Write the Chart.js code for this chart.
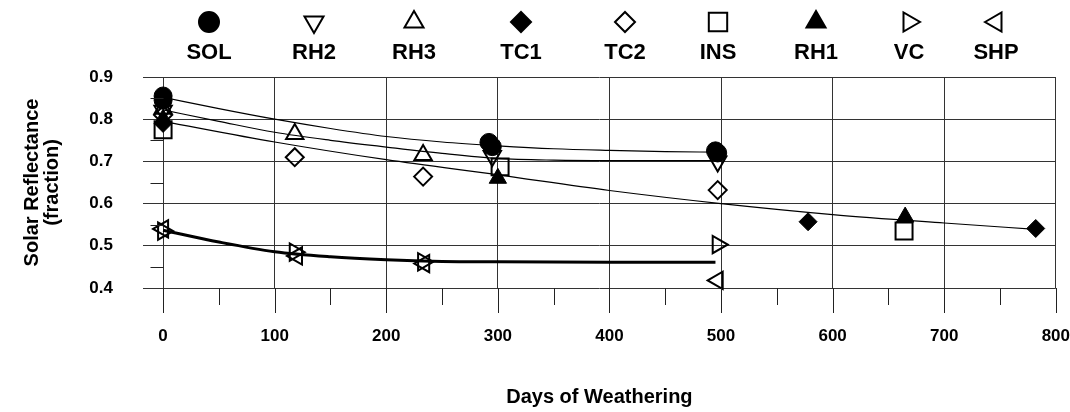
<!DOCTYPE html>
<html>
<head>
<meta charset="utf-8">
<script src="https://cdn.jsdelivr.net/npm/chart.js@4/dist/chart.umd.min.js"></script>
<style>
  html, body { margin: 0; padding: 0; background: #fff; }
</style>
</head>
<body>
<canvas id="myChart" width="1070" height="412"></canvas>
<script>
// Measured points (days, reflectance) for each sample
const seriesNames = ['SOL', 'RH2', 'RH3', 'TC1', 'TC2', 'INS', 'RH1', 'VC', 'SHP'];

const solDays = [0, 0, 292, 295, 495, 497];
const solRefl = [0.855, 0.845, 0.745, 0.735, 0.725, 0.72];
const rh2Days = [0, 295, 497];
const rh2Refl = [0.82, 0.713, 0.70];
const rh3Days = [0, 118, 233];
const rh3Refl = [0.825, 0.765, 0.715];
const tc1Days = [0, 578, 782];
const tc1Refl = [0.79, 0.557, 0.541];
const tc2Days = [0, 118, 233, 497];
const tc2Refl = [0.81, 0.71, 0.664, 0.632];
const insDays = [0, 302, 664];
const insRefl = [0.775, 0.687, 0.535];
const rh1Days = [0, 300, 665];
const rh1Refl = [0.80, 0.66, 0.568];
const vcDays = [0, 118, 233, 497];
const vcRefl = [0.535, 0.485, 0.462, 0.503];
const shpDays = [0, 120, 234, 497];
const shpRefl = [0.54, 0.476, 0.458, 0.418];

// Trend curves
const trendADays = [0, 50, 100, 150, 200, 250, 300, 350, 400, 450, 497];
const trendA = [0.852, 0.825, 0.80, 0.778, 0.759, 0.746, 0.737, 0.730, 0.726, 0.723, 0.722];
const trendBDays = [0, 50, 100, 150, 200, 250, 300, 350, 400, 450, 497];
const trendB = [0.822, 0.795, 0.769, 0.75, 0.734, 0.719, 0.707, 0.703, 0.702, 0.702, 0.702];
const trendCDays = [0, 100, 200, 300, 400, 500, 600, 700, 782];
const trendC = [0.795, 0.746, 0.704, 0.668, 0.631, 0.60, 0.574, 0.554, 0.539];
const trendDDays = [0, 50, 100, 150, 200, 250, 300, 400, 495];
const trendD = [0.537, 0.509, 0.486, 0.474, 0.467, 0.463, 0.462, 0.461, 0.461];

const xTicks = [0, 100, 200, 300, 400, 500, 600, 700, 800];
const yTicks = ['0.4', '0.5', '0.6', '0.7', '0.8', '0.9'];

const seriesDays = [solDays, rh2Days, rh3Days, tc1Days, tc2Days, insDays, rh1Days, vcDays, shpDays];
const seriesRefl = [solRefl, rh2Refl, rh3Refl, tc1Refl, tc2Refl, insRefl, rh1Refl, vcRefl, shpRefl];

// marker look for each series
const markerStyles = [
  { pointStyle: 'circle',   rotation: 0,   filled: true,  radius: 9 },
  { pointStyle: 'triangle', rotation: 180, filled: false, radius: 10 },
  { pointStyle: 'triangle', rotation: 0,   filled: false, radius: 10 },
  { pointStyle: 'rectRot',  rotation: 0,   filled: true,  radius: 9 },
  { pointStyle: 'rectRot',  rotation: 0,   filled: false, radius: 9 },
  { pointStyle: 'rect',     rotation: 0,   filled: false, radius: 12 },
  { pointStyle: 'triangle', rotation: 0,   filled: true,  radius: 10 },
  { pointStyle: 'triangle', rotation: 90,  filled: false, radius: 10 },
  { pointStyle: 'triangle', rotation: 270, filled: false, radius: 10 }
];
const legendX = [209, 314, 414, 521, 625, 718, 816, 909, 996];

const toPoints = (xs, ys) => xs.map((d, i) => ({ x: d, y: ys[i] }));

const datasets = seriesNames.map((name, i) => {
  const st = markerStyles[i];
  return {
    label: name,
    data: toPoints(seriesDays[i], seriesRefl[i]),
    showLine: false,
    pointStyle: st.pointStyle,
    rotation: st.rotation,
    pointRadius: st.radius,
    pointHoverRadius: st.radius,
    backgroundColor: st.filled ? '#000' : 'rgba(0,0,0,0)',
    borderColor: '#000',
    pointBorderWidth: st.filled ? 1 : 2,
    clip: false
  };
});

const trends = [
  [trendADays, trendA, 1.2],
  [trendBDays, trendB, 1.2],
  [trendCDays, trendC, 1.2],
  [trendDDays, trendD, 3]
];
trends.forEach(([xs, ys, w], i) => {
  datasets.push({
    label: 'trend' + i,
    data: toPoints(xs, ys),
    showLine: true,
    pointRadius: 0,
    borderColor: '#000',
    borderWidth: w,
    cubicInterpolationMode: 'monotone'
  });
});

const decor = {
  id: 'decor',
  afterDraw(chart) {
    const { ctx, chartArea, scales: { x, y } } = chart;
    ctx.save();
    ctx.strokeStyle = '#222';
    ctx.lineWidth = 1;
    // tick marks under the x axis
    for (let v = 0; v <= 800; v += 50) {
      const px = Math.round(x.getPixelForValue(v)) + 0.5;
      const len = v % 100 === 0 ? 25 : 17;
      ctx.beginPath();
      ctx.moveTo(px, chartArea.bottom);
      ctx.lineTo(px, chartArea.bottom + len);
      ctx.stroke();
    }
    // minor ticks on the zero line
    const x0 = Math.round(x.getPixelForValue(0)) + 0.5;
    for (let k = 0; k < 5; k++) {
      const py = Math.round(y.getPixelForValue(0.45 + k * 0.1)) + 0.5;
      ctx.beginPath();
      ctx.moveTo(x0 - 13, py);
      ctx.lineTo(x0, py);
      ctx.stroke();
    }
    // legend: marker above name
    ctx.font = 'bold 22px "Liberation Sans", Arial, sans-serif';
    ctx.textAlign = 'center';
    ctx.textBaseline = 'alphabetic';
    seriesNames.forEach((name, i) => {
      const st = markerStyles[i];
      ctx.fillStyle = st.filled ? '#000' : 'rgba(0,0,0,0)';
      ctx.strokeStyle = '#000';
      ctx.lineWidth = 2;
      Chart.helpers.drawPoint(ctx, {
        pointStyle: st.pointStyle,
        rotation: st.rotation,
        radius: st.radius + 1,
        borderWidth: 2
      }, legendX[i], 22);
      ctx.fillStyle = '#000';
      ctx.fillText(name, legendX[i], 59);
    });
    ctx.restore();
  }
};

const gridColor = '#333';
const tickFont = { family: '"Liberation Sans", Arial, sans-serif', size: 17, weight: 'bold' };
const titleFont = { family: '"Liberation Sans", Arial, sans-serif', size: 20, weight: 'bold', lineHeight: 1.0 };

new Chart('myChart', {
  type: 'scatter',
  data: { datasets },
  plugins: [decor],
  options: {
    responsive: false,
    animation: false,
    layout: { padding: { top: 77, right: 13, left: 0, bottom: 0 } },
    plugins: { legend: { display: false }, tooltip: { enabled: false } },
    scales: {
      x: {
        type: 'linear',
        min: -18,
        max: 800,
        afterBuildTicks: s => { s.ticks = xTicks.map(v => ({ value: v })); },
        afterFit: s => { s.height = 124; },
        border: { display: false },
        grid: { color: gridColor, drawTicks: true, tickLength: 38, tickColor: 'rgba(0,0,0,0)' },
        ticks: { color: '#000', font: tickFont, padding: 0 },
        title: { display: true, text: 'Days of Weathering', color: '#000', font: titleFont, padding: { top: 0, bottom: 5 } }
      },
      y: {
        min: 0.4,
        max: 0.9,
        afterBuildTicks: s => { s.ticks = yTicks.map(t => ({ value: parseFloat(t) })); },
        afterFit: s => { s.width = 143; },
        border: { display: false },
        grid: { color: gridColor, drawTicks: true, tickLength: 28, tickColor: 'rgba(0,0,0,0)' },
        ticks: { color: '#000', font: tickFont, padding: 2, callback: v => v.toFixed(1) },
        title: { display: true, text: ['Solar Reflectance', '(fraction)'], color: '#000', font: titleFont, padding: { top: 22 } }
      }
    }
  }
});
</script>
</body>
</html>
